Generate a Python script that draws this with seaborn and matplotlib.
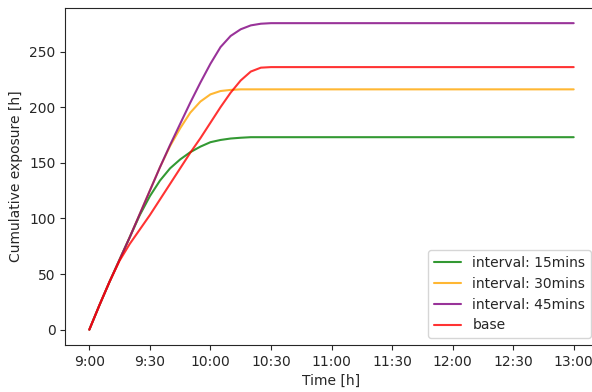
import pandas as pd
import matplotlib
matplotlib.use("Agg")
import matplotlib.pyplot as plt
import matplotlib.dates as mdates
import seaborn as sns

sns.set_style("ticks")
plt.rcParams['font.family'] = ['DejaVu Sans']
plt.rcParams['font.size'] = 10

# minutes after 9:00 and cumulative exposure values
minutes = [0, 5, 10, 15, 20, 25, 30, 35, 40, 45, 50, 55, 60, 65, 70, 75, 80, 85, 90, 240]
interval_15 = [0, 22, 43, 63, 83, 103, 120, 134, 145, 153, 159.5, 164.5, 168.5, 170.5, 171.8, 172.5, 173, 173, 173, 173]
interval_30 = [0, 22, 43, 63, 83, 104, 125, 146, 165, 181, 195, 205, 211.5, 214.5, 215.5, 216, 216, 216, 216, 216]
interval_45 = [0, 22, 43, 63, 83, 104, 125, 146, 166, 185, 204, 222, 239, 254, 264, 270, 273.5, 275, 275.5, 275.5]
base = [0, 22, 43, 62, 77, 90, 103, 117, 131, 145, 159, 172, 186, 200, 213, 224, 232, 235.5, 236, 236]

series_names = ['interval: 15mins', 'interval: 30mins', 'interval: 45mins', 'base']
series_values = [interval_15, interval_30, interval_45, base]
line_colors = ['green', 'orange', 'purple', 'red']

start = pd.Timestamp('2023-01-01 09:00')
times = [start + pd.Timedelta(minutes=m) for m in minutes]

frames = []
for name, vals in zip(series_names, series_values):
    frames.append(pd.DataFrame({'time': times, 'exposure': vals, 'scenario': name}))
df = pd.concat(frames, ignore_index=True)

fig = plt.figure(figsize=(5.92, 3.92), dpi=100)
ax = fig.add_axes([0.11, 0.12, 0.90, 0.86])

sns.lineplot(data=df, x='time', y='exposure', hue='scenario',
             palette=dict(zip(series_names, line_colors)),
             linewidth=1.5, alpha=0.8, ax=ax)

ax.xaxis.set_major_locator(mdates.MinuteLocator(byminute=[0, 30]))
ax.xaxis.set_major_formatter(mdates.DateFormatter('%-H:%M'))
ax.set_xlabel('Time [h]')
ax.set_ylabel('Cumulative exposure [h]')
ax.set_yticks([0, 50, 100, 150, 200, 250])
ax.legend(title=None, loc='lower right')

fig.savefig('out.png', dpi=100)
